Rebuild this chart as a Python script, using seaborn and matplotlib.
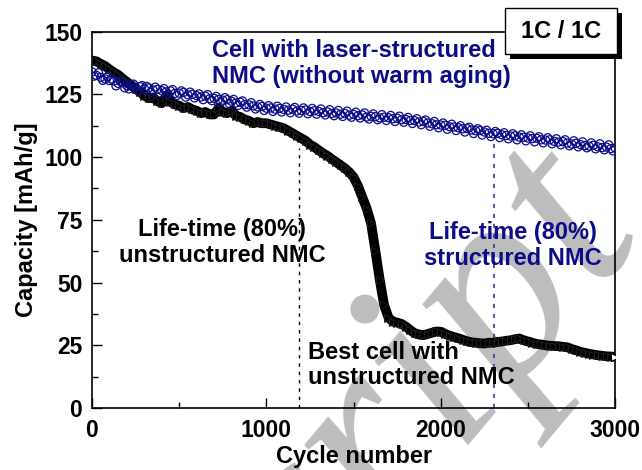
import numpy as np
import pandas as pd
import matplotlib
matplotlib.use("Agg")
import matplotlib.pyplot as plt
from matplotlib.patches import Rectangle
from matplotlib.ticker import MultipleLocator
import seaborn as sns

# Cycle numbers (every 25 cycles), plus the in-between readings
cycles = np.arange(0, 3001, 25)
cycles_mid = np.arange(12.5, 3000, 25)

# Discharge capacity of the cell with laser-structured NMC (mAh/g)
cap_structured = [
    134.0, 132.6, 131.8, 131.2, 130.5, 130.3, 129.4, 129.6, 128.5, 128.9,
    127.8, 128.1, 127.3, 127.6, 126.8, 127.0, 126.5, 126.0, 126.4, 125.4,
    125.5, 125.8, 124.8, 125.0, 124.5, 124.0, 124.3, 123.3, 123.4, 123.0,
    122.7, 122.9, 122.3, 121.6, 121.9, 120.9, 120.8, 120.4, 120.0, 120.2,
    119.5, 119.6, 119.1, 119.4, 119.0, 118.7, 119.1, 118.4, 118.6, 118.8,
    118.2, 118.5, 118.2, 117.7, 118.0, 117.4, 117.6, 117.1, 117.4, 116.7,
    117.0, 116.5, 116.8, 116.0, 116.3, 116.1, 115.6, 115.9, 115.7, 115.3,
    115.5, 114.9, 115.0, 114.6, 114.5, 114.0, 114.2, 113.6, 113.3, 112.9,
    112.8, 112.7, 112.1, 112.0, 111.7, 111.3, 111.4, 110.8, 110.5, 110.6,
    110.0, 109.5, 109.3, 109.5, 108.9, 108.6, 108.4, 108.5, 108.0, 107.9,
    107.6, 107.4, 107.5, 106.9, 106.8, 106.9, 106.3, 106.0, 106.2, 105.6,
    105.2, 105.5, 105.0, 104.6, 104.4, 104.7, 104.1, 103.8, 104.0, 103.4,
    103.6,
]
cap_structured_mid = [
    132.3, 133.6, 130.6, 132.0, 131.1, 128.4, 130.2, 127.6, 127.2, 129.1,
    126.6, 128.5, 128.2, 125.8, 127.9, 125.5, 127.3, 125.0, 126.9, 124.6,
    126.4, 123.9, 125.9, 123.6, 125.2, 122.9, 124.9, 122.5, 124.2, 121.8,
    123.7, 121.3, 123.0, 120.6, 122.4, 119.9, 121.7, 119.2, 121.0, 118.6,
    120.5, 118.2, 120.3, 118.0, 120.0, 117.7, 119.8, 117.5, 119.6, 117.3,
    119.4, 117.1, 119.2, 116.8, 118.9, 116.5, 118.6, 116.2, 118.3, 115.9,
    117.9, 115.6, 117.6, 115.2, 117.2, 114.9, 116.9, 114.6, 116.6, 114.2,
    116.3, 113.9, 115.8, 113.4, 115.3, 112.9, 114.8, 112.3, 114.2, 111.7,
    113.6, 111.1, 113.1, 110.6, 112.5, 110.0, 111.9, 109.4, 111.3, 108.8,
    110.7, 108.2, 110.2, 107.8, 109.7, 107.3, 109.3, 106.9, 108.9, 106.5,
    108.5, 106.1, 108.1, 105.7, 107.7, 105.3, 107.3, 104.9, 106.9, 104.5,
    106.5, 104.1, 106.1, 103.7, 105.7, 103.3, 105.3, 102.9, 104.9, 102.5,
]

# Discharge capacity of the best cell with unstructured NMC (mAh/g)
cap_unstructured = [
    138.5, 138.2, 137.2, 136.3, 135.0, 133.8, 132.8, 131.3, 130.0, 128.5,
    127.2, 126.0, 124.5, 123.5, 123.8, 122.3, 121.5, 124.5, 122.0, 121.0,
    120.5, 119.5, 120.0, 119.0, 118.5, 117.5, 118.0, 117.0, 117.0, 119.5,
    118.0, 117.5, 118.5, 116.5, 116.0, 115.0, 114.5, 113.5, 114.0, 113.5,
    113.5, 113.0, 112.5, 112.0, 111.5, 110.5, 109.5, 108.5, 107.5, 106.5,
    105.0, 104.0, 102.7, 101.5, 100.5, 99.2, 98.0, 96.8, 95.5, 94.0,
    92.0, 88.5, 84.0, 79.5, 73.6, 62.5, 51.0, 41.0, 36.0, 34.4,
    34.0, 33.5, 32.4, 31.0, 29.8, 29.3, 29.0, 29.5, 30.0, 30.5,
    30.4, 29.5, 28.8, 28.3, 27.8, 27.2, 26.6, 26.2, 26.0, 25.8,
    25.7, 26.0, 26.0, 26.3, 26.5, 26.8, 27.0, 27.4, 27.7, 27.0,
    26.5, 26.0, 25.5, 25.3, 25.0, 24.8, 24.7, 24.6, 24.4, 24.2,
    23.5, 23.0, 22.4, 22.0, 21.6, 21.3, 21.0, 20.8, 20.6, 20.5,
    20.4,
]

# End-of-life cycle (80 % capacity) of both cell types
eol_unstructured = 1185
eol_structured = 2305

x_ticks = [0, 1000, 2000, 3000]
y_ticks = [0, 25, 50, 75, 100, 125, 150]

navy = "#0c0c88"

sns.set_theme(style="ticks")
plt.rcParams["font.family"] = ["Liberation Sans", "DejaVu Sans"]
plt.rcParams["font.weight"] = "bold"
plt.rcParams["text.color"] = "black"
plt.rcParams["axes.labelcolor"] = "black"
plt.rcParams["xtick.color"] = "black"
plt.rcParams["ytick.color"] = "black"

df_s = pd.DataFrame({
    "cycle": np.concatenate([cycles, cycles_mid]),
    "capacity": cap_structured + cap_structured_mid,
})
df_u = pd.DataFrame({"cycle": cycles, "capacity": cap_unstructured})

fig = plt.figure(figsize=(6.42, 4.70), dpi=100)
ax = fig.add_axes([0.1433, 0.132, 0.815, 0.8006])
ax.set_facecolor("none")

# Faint diagonal watermark behind the data
fig.text(0.3785, -0.5106, "script", rotation=50, rotation_mode="anchor",
         fontsize=197, family="Liberation Serif", style="italic",
         fontweight="normal", color="#bdbdbd", ha="left", va="baseline",
         zorder=-5)

# Unstructured cell: dense triangles merging into a thick band
sns.lineplot(data=df_u, x="cycle", y="capacity", ax=ax, color="black",
             linewidth=7, marker=">", markersize=6, markerfacecolor="black",
             markeredgecolor="#222222", markeredgewidth=0.6, zorder=3)
ax.plot(cycles[-1], cap_unstructured[-1], marker=">", markersize=6,
        markerfacecolor="white", markeredgecolor="black",
        markeredgewidth=0.8, zorder=3.5)

# Structured cell: open circles
sns.scatterplot(data=df_s, x="cycle", y="capacity", ax=ax, marker="o",
                s=34, facecolor="none", edgecolor=navy, linewidth=0.9,
                zorder=4)

# Lifetime markers
ax.plot([eol_unstructured, eol_unstructured], [0, 103.5], color="black",
        linestyle=(0, (2.5, 3.5)), linewidth=1.0, zorder=2)
ax.plot([eol_structured, eol_structured], [0, 105.5], color="#3a3aa8",
        linestyle=(0, (2.5, 3.5)), linewidth=1.2, zorder=2)

ax.set_xlim(0, 3000)
ax.set_ylim(0, 150)
ax.set_xticks(x_ticks)
ax.set_yticks(y_ticks)
ax.xaxis.set_minor_locator(MultipleLocator(500))
ax.yaxis.set_minor_locator(MultipleLocator(12.5))
ax.tick_params(axis="both", which="major", direction="in", length=7,
               width=1.0, labelsize=16.5, color="black", labelcolor="black")
ax.tick_params(axis="x", which="major", pad=8)
ax.tick_params(axis="y", which="major", pad=7)
ax.tick_params(axis="both", which="minor", direction="in", length=4,
               width=1.0, color="black")
for lab in ax.get_xticklabels() + ax.get_yticklabels():
    lab.set_fontweight("bold")
for sp in ax.spines.values():
    sp.set_color("black")
    sp.set_linewidth(1.2)

ax.set_xlabel("Cycle number", fontsize=17, fontweight="bold", labelpad=2)
ax.set_ylabel("Capacity [mAh/g]", fontsize=17, fontweight="bold", labelpad=4)

txt = dict(fontsize=17, fontweight="bold", linespacing=1.15)
ax.text(688, 137.3, "Cell with laser-structured\nNMC (without warm aging)",
        color=navy, ha="left", va="center", **txt)
ax.text(746, 65.9, "Life-time (80%)\nunstructured NMC", color="black",
        ha="center", va="center", **txt)
ax.text(1239, 17.1, "Best cell with\nunstructured NMC", color="black",
        ha="left", va="center", **txt)
ax.text(2415, 64.9, "Life-time (80%)\nstructured NMC", color=navy,
        ha="center", va="center", **txt)

# "1C / 1C" label box with drop shadow
bx0, bx1 = 505 / 642, 617 / 642
by0, by1 = 1 - 54 / 470, 1 - 8 / 470
sh = 5 / 642
fig.patches.append(Rectangle((bx0 + sh, by0 - 5 / 470), bx1 - bx0, by1 - by0,
                             transform=fig.transFigure, facecolor="black",
                             edgecolor="none", zorder=10))
fig.patches.append(Rectangle((bx0, by0), bx1 - bx0, by1 - by0,
                             transform=fig.transFigure, facecolor="white",
                             edgecolor="black", linewidth=1.0, zorder=11))
fig.text((bx0 + bx1) / 2, (by0 + by1) / 2, "1C / 1C", fontsize=17,
         fontweight="bold", ha="center", va="center", zorder=12)

fig.savefig("out.png", dpi=100)
